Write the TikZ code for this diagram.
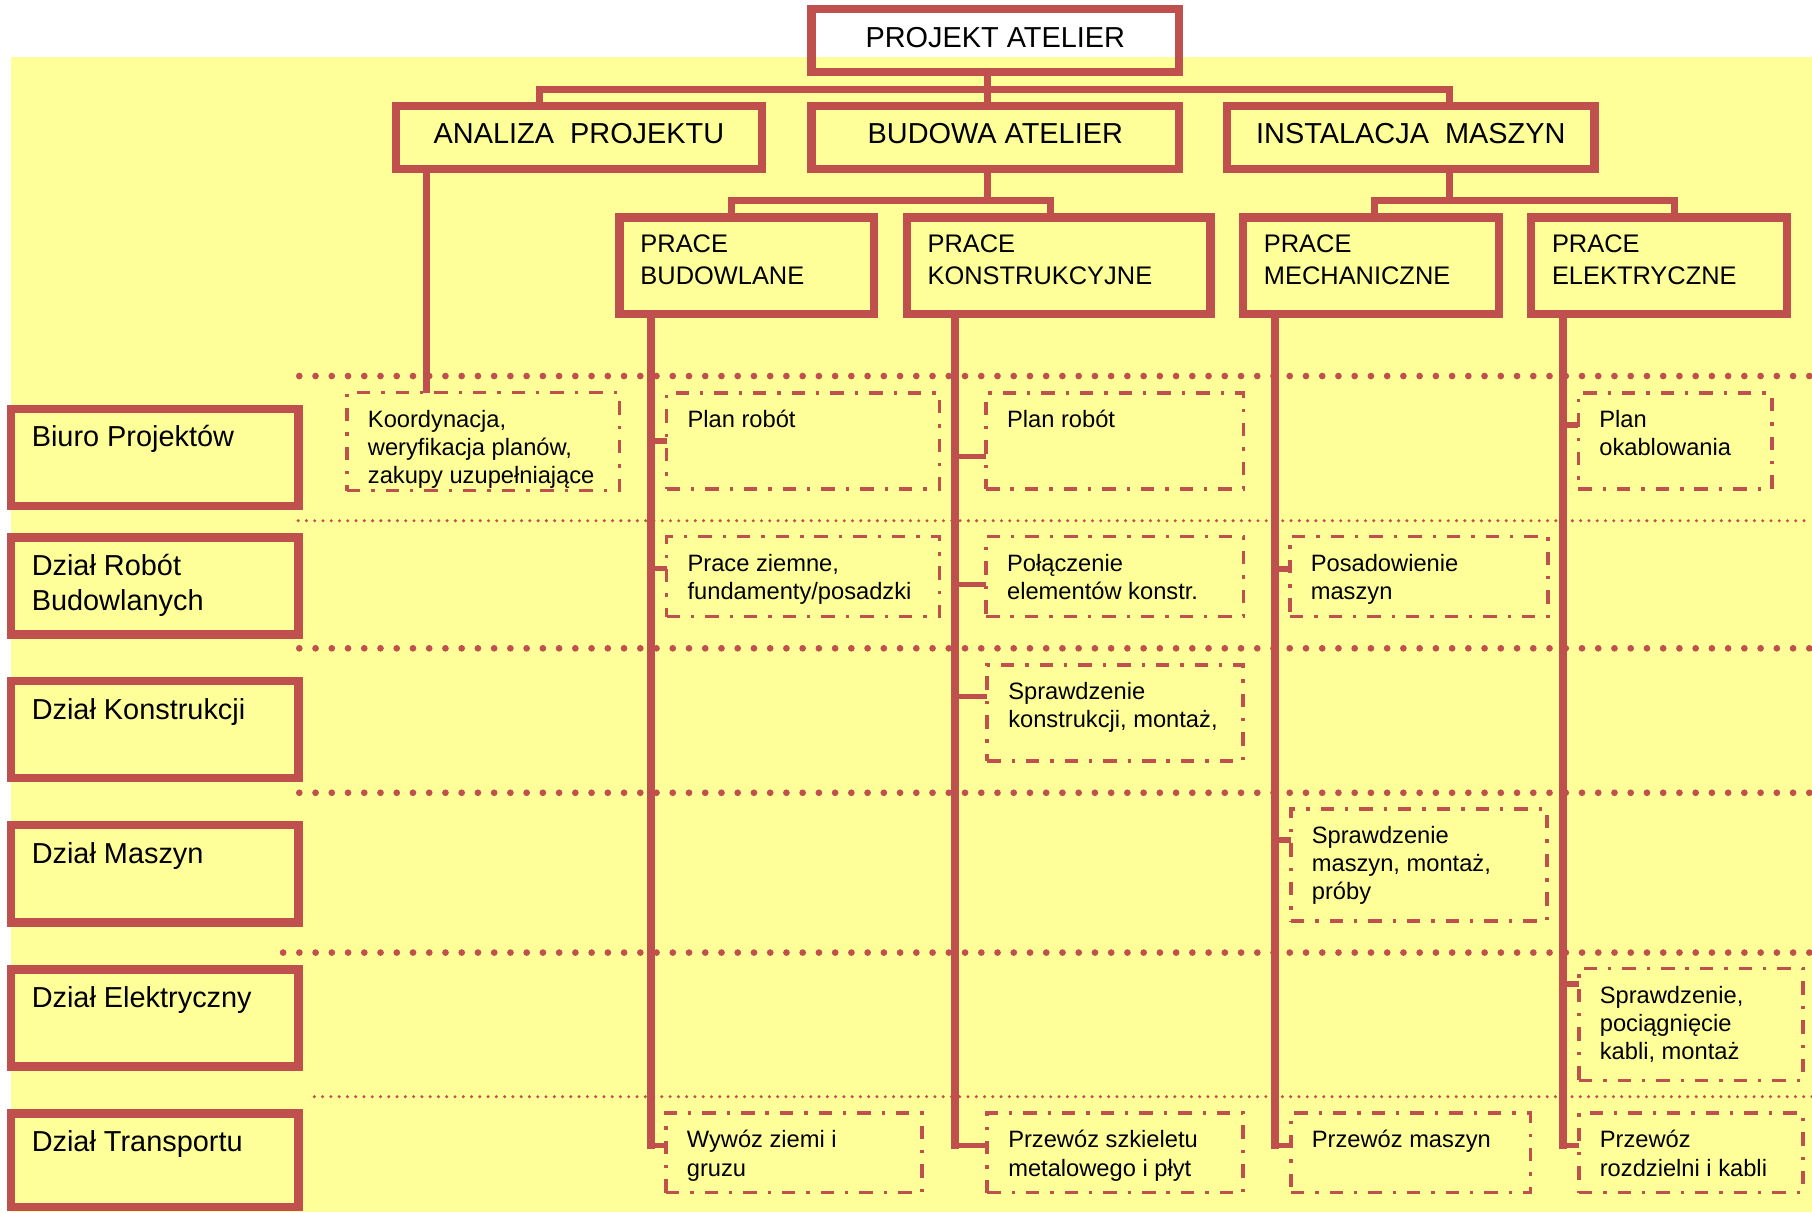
\documentclass[tikz,border=0pt]{standalone}
\usepackage{fontspec}
\setmainfont{Liberation Sans}
\definecolor{chartred}{HTML}{C0504D}
\definecolor{paneyellow}{HTML}{FFFF99}
\newcommand\leadstrut{\rule{0pt}{0.75em}}
\begin{document}
\begin{tikzpicture}[x=1pt,y=-1pt,
  thickbox/.style={draw=chartred, line width=7.2pt, inner sep=0pt, outer sep=0pt, line join=miter},
  headbox/.style={thickbox, minimum width=318pt, minimum height=54.5pt,
                  text height=11.2pt, text depth=0pt, font=\fontsize{25}{30}\selectfont},
  workbox/.style={thickbox, minimum height=83.7pt},
  deptbox/.style={thickbox, minimum width=248.8pt, minimum height=84pt},
  taskbox/.style={draw=chartred, line width=3.1pt, inner sep=0pt, outer sep=0pt,
                  dash pattern=on 11.6pt off 9.5pt on 2.9pt off 9.5pt},
  conn/.style={draw=chartred, line width=6.2pt, line join=miter},
  riser/.style={draw=chartred, line width=6.3pt, line cap=rect},
  stub/.style={draw=chartred, line width=4.6pt},
  bigdots/.style={draw=chartred, line width=5.8pt, line cap=round, dash pattern=on 0pt off 14.05pt},
  finedots/.style={draw=chartred, line width=2.9pt, line cap=round, dash pattern=on 0pt off 7.16pt},
  depttext/.style={anchor=north west, inner sep=0pt, align=left, font=\fontsize{25}{30}\selectfont},
  worktext/.style={anchor=north west, inner sep=0pt, align=left, font=\fontsize{22}{27.6}\selectfont},
  tasktext/.style={anchor=north west, inner sep=0pt, align=left, font=\fontsize{20.5}{24.3}\selectfont},
]
\useasboundingbox (0,0) rectangle (1568,1049);
\fill[white] (0,0) rectangle (1568,1049);
\fill[paneyellow] (9.4,49.6) rectangle (1568,1049);

% row separators
\draw[bigdots]  (259,325.4) -- (1568,325.4);
\draw[finedots] (258,450.6) -- (1568,450.6);
\draw[bigdots]  (259,561)   -- (1568,561);
\draw[bigdots]  (259,686)   -- (1568,686);
\draw[bigdots]  (245,824.3) -- (1568,824.3);
\draw[finedots] (272,949)   -- (1568,949);

% top of the hierarchy
\node[headbox] (top)  at (861.25,35.3)  {PROJEKT ATELIER};
\node[headbox, minimum width=316.8pt] (anl) at (501,118.7) {ANALIZA\ \ PROJEKTU};
\node[headbox] (bud)  at (861.25,118.7) {BUDOWA ATELIER};
\node[headbox] (inst) at (1220.85,118.7) {INSTALACJA\ \ MASZYN};

% work packages
\node[workbox, minimum width=220.3pt] (pbud)  at (646.25,230)  {};
\node[workbox, minimum width=262.8pt] (pkon)  at (916,230)     {};
\node[workbox, minimum width=221.5pt] (pmech) at (1186.35,230) {};
\node[workbox, minimum width=221.3pt] (pel)   at (1435.55,230) {};
\node[worktext] (tbud)  at ([xshift=17.9pt,yshift=-13.9pt]pbud.north west)  {\leadstrut PRACE\\BUDOWLANE};
\node[worktext] (tkon)  at ([xshift=17.9pt,yshift=-13.9pt]pkon.north west)  {\leadstrut PRACE\\KONSTRUKCYJNE};
\node[worktext] (tmech) at ([xshift=17.9pt,yshift=-13.9pt]pmech.north west) {\leadstrut PRACE\\MECHANICZNE};
\node[worktext] (tel)   at ([xshift=17.9pt,yshift=-13.9pt]pel.north west)   {\leadstrut PRACE\\ELEKTRYCZNE};

% departments
\node[deptbox] (r1) at (134,396)    {};
\node[deptbox] (r2) at (134,507.1)  {};
\node[deptbox] (r3) at (134,631.45) {};
\node[deptbox] (r4) at (134,756.15) {};
\node[deptbox] (r5) at (134,880.8)  {};
\node[deptbox, minimum height=80.6pt] (r6) at (134,1003.9) {};
\node[depttext] (l1) at ([xshift=17.7pt,yshift=-13.85pt]r1.north west) {\leadstrut Biuro Projektów};
\node[depttext] (l2) at ([xshift=17.7pt,yshift=-13.85pt]r2.north west) {\leadstrut Dział Robót\\Budowlanych};
\node[depttext] (l3) at ([xshift=17.7pt,yshift=-13.85pt]r3.north west) {\leadstrut Dział Konstrukcji};
\node[depttext] (l4) at ([xshift=17.7pt,yshift=-13.85pt]r4.north west) {\leadstrut Dział Maszyn};
\node[depttext] (l5) at ([xshift=17.7pt,yshift=-13.85pt]r5.north west) {\leadstrut Dział Elektryczny};
\node[depttext] (l6) at ([xshift=17.7pt,yshift=-13.85pt]r6.north west) {\leadstrut Dział Transportu};

% tasks
\node[taskbox, minimum width=235.7pt, minimum height=84.8pt] (d11) at (418.05,382.2) {};
\node[taskbox, minimum width=236.2pt, minimum height=83pt]   (d12) at (694.9,381.5)  {};
\node[taskbox, minimum width=222.7pt, minimum height=83pt]   (d13) at (964.65,381.5) {};
\node[taskbox, minimum width=167.4pt, minimum height=83pt]   (d14) at (1449.5,381.5) {};
\node[taskbox, minimum width=236.2pt, minimum height=69.2pt] (d21) at (694.9,499)    {};
\node[taskbox, minimum width=222.7pt, minimum height=69.2pt] (d22) at (964.65,499)   {};
\node[taskbox, minimum width=223.4pt, minimum height=69.2pt] (d23) at (1227.8,499)   {};
\node[taskbox, minimum width=221.5pt, minimum height=83pt]   (d32) at (965.05,616.8) {};
\node[taskbox, minimum width=221.5pt, minimum height=96.9pt] (d43) at (1227.75,748.45) {};
\node[taskbox, minimum width=193.8pt, minimum height=97.2pt] (d54) at (1463.1,886.5) {};
\node[taskbox, minimum width=221.7pt, minimum height=68.8pt] (d61) at (687.05,997.6) {};
\node[taskbox, minimum width=221.5pt, minimum height=68.8pt] (d62) at (965.05,997.6) {};
\node[taskbox, minimum width=207.4pt, minimum height=68.8pt] (d63) at (1220.7,997.6) {};
\node[taskbox, minimum width=193.8pt, minimum height=68.8pt] (d64) at (1463.1,997.6) {};

\node[tasktext] (t11) at ([xshift=18pt,yshift=-14.6pt]d11.north west) {\leadstrut Koordynacja,\\weryfikacja planów,\\zakupy uzupełniające};
\node[tasktext] (t12) at ([xshift=18pt,yshift=-14.6pt]d12.north west) {\leadstrut Plan robót};
\node[tasktext] (t13) at ([xshift=18pt,yshift=-14.6pt]d13.north west) {\leadstrut Plan robót};
\node[tasktext] (t14) at ([xshift=18pt,yshift=-14.6pt]d14.north west) {\leadstrut Plan\\okablowania};
\node[tasktext] (t21) at ([xshift=18pt,yshift=-14.6pt]d21.north west) {\leadstrut Prace ziemne,\\fundamenty/posadzki};
\node[tasktext] (t22) at ([xshift=18pt,yshift=-14.6pt]d22.north west) {\leadstrut Połączenie\\elementów konstr.};
\node[tasktext] (t23) at ([xshift=18pt,yshift=-14.6pt]d23.north west) {\leadstrut Posadowienie\\maszyn};
\node[tasktext] (t32) at ([xshift=18pt,yshift=-14.6pt]d32.north west) {\leadstrut Sprawdzenie\\konstrukcji, montaż,};
\node[tasktext] (t43) at ([xshift=18pt,yshift=-14.6pt]d43.north west) {\leadstrut Sprawdzenie\\maszyn, montaż,\\próby};
\node[tasktext] (t54) at ([xshift=18pt,yshift=-14.6pt]d54.north west) {\leadstrut Sprawdzenie,\\pociągnięcie\\kabli, montaż};
\node[tasktext] (t61) at ([xshift=18pt,yshift=-14.6pt]d61.north west) {\leadstrut Wywóz ziemi i\\gruzu};
\node[tasktext] (t62) at ([xshift=18pt,yshift=-14.6pt]d62.north west) {\leadstrut Przewóz szkieletu\\metalowego i płyt};
\node[tasktext] (t63) at ([xshift=18pt,yshift=-14.6pt]d63.north west) {\leadstrut Przewóz maszyn};
\node[tasktext] (t64) at ([xshift=18pt,yshift=-14.6pt]d64.north west) {\leadstrut Przewóz\\rozdzielni i kabli};

% tree connectors
\coordinate (jA) at (467,77.3);
\coordinate (jB) at (854.3,77.3);
\coordinate (jC) at (1254,77.3);
\draw[conn] (top.south -| jB) -- (bud.north -| jB);
\draw[conn] (anl.north -| jA) -- (jA) -- (jC) -- (inst.north -| jC);

\coordinate (kA) at (632.9,173.6);
\coordinate (kB) at (854.3,173.6);
\coordinate (kC) at (909,173.6);
\draw[conn] (bud.south -| kB) -- (kB);
\draw[conn] (pbud.north -| kA) -- (kA) -- (kC) -- (pkon.north -| kC);

\coordinate (mA) at (1189.5,173.6);
\coordinate (mB) at (1254,173.6);
\coordinate (mC) at (1449,173.6);
\draw[conn] (inst.south -| mB) -- (mB);
\draw[conn] (pmech.north -| mA) -- (mA) -- (mC) -- (pel.north -| mC);

% risers down the task columns
\coordinate (vA) at (369.2,0);
\coordinate (vB) at (563.3,0);
\coordinate (vC) at (826.5,0);
\coordinate (vD) at (1103.2,0);
\coordinate (vE) at (1352.4,0);

\draw[conn] (anl.south -| vA) -- (d11.north -| vA);

\path ([yshift=6.6pt]d61.west) coordinate (s61);
\path ([yshift=6.6pt]d62.west) coordinate (s62);
\path ([yshift=6.6pt]d63.west) coordinate (s63);
\path ([yshift=6.6pt]d64.west) coordinate (s64);
\draw[riser] (pbud.south -| vB)  -- (s61 -| vB);
\draw[riser] (pkon.south -| vC)  -- (s62 -| vC);
\draw[riser] (pmech.south -| vD) -- (s63 -| vD);
\draw[riser] (pel.south -| vE)   -- (s64 -| vE);
\draw[stub] (s61 -| vB) -- (s61);
\draw[stub] (s62 -| vC) -- (s62);
\draw[stub] (s63 -| vD) -- (s63);
\draw[stub] (s64 -| vE) -- (s64);

% branches to the tasks
\path (d12.west) coordinate (s12);
\path ([yshift=7pt]d21.west) coordinate (s21);
\path ([yshift=-13.7pt]d13.west) coordinate (s13);
\path ([yshift=-7pt]d22.west) coordinate (s22);
\path ([yshift=14.1pt]d32.west) coordinate (s32);
\path ([yshift=6.6pt]d23.west) coordinate (s23);
\path ([yshift=21.65pt]d43.west) coordinate (s43);
\path ([yshift=13.7pt]d14.west) coordinate (s14);
\path ([yshift=35pt]d54.west) coordinate (s54);
\draw[stub] (s12 -| vB) -- (s12);
\draw[stub] (s21 -| vB) -- (s21);
\draw[stub] (s13 -| vC) -- (s13);
\draw[stub] (s22 -| vC) -- (s22);
\draw[stub] (s32 -| vC) -- (s32);
\draw[stub] (s23 -| vD) -- (s23);
\draw[stub] (s43 -| vD) -- (s43);
\draw[stub] (s14 -| vE) -- (s14);
\draw[stub] (s54 -| vE) -- (s54);
\end{tikzpicture}
\end{document}
